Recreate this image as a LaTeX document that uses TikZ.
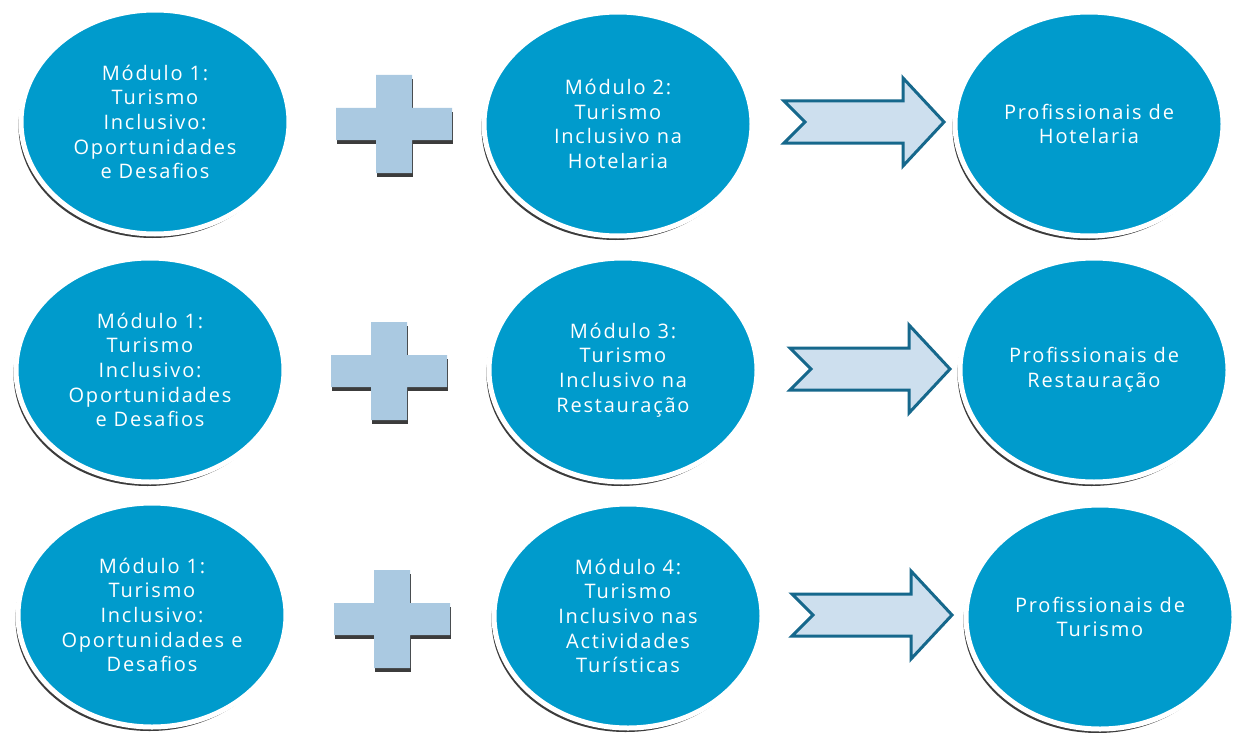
\documentclass[tikz,border=0pt]{standalone}
\usepackage{fontspec}
\setsansfont{Open Sans}[LetterSpace=9]
\usetikzlibrary{shapes.geometric,shadows}
\definecolor{ballblue}{RGB}{0,155,204}
\definecolor{crossfill}{RGB}{170,201,225}
\definecolor{arrowfill}{RGB}{205,223,238}
\definecolor{arrowline}{RGB}{22,104,140}
\definecolor{shadowgray}{RGB}{60,60,60}
\tikzset{
  ball/.style={ellipse, fill=ballblue, draw=white, line width=5pt,
    minimum width=268pt, minimum height=224pt, inner sep=0pt,
    text=white, align=center,
    font=\sffamily\fontsize{20}{24.6}\selectfont,
    drop shadow={shadow xshift=-2.5pt, shadow yshift=-4pt, fill=shadowgray, opacity=1}},
  pics/plussign/.style={code={
    \fill[shadowgray] (-57,-12) rectangle (59,20);
    \fill[shadowgray] (-17,-45) rectangle (19,53);
    \fill[crossfill] (-58,-16) -- (-18,-16) -- (-18,-49) -- (18,-49) -- (18,-16)
       -- (58,-16) -- (58,16) -- (18,16) -- (18,49) -- (-18,49) -- (-18,16) -- (-58,16) -- cycle;
  }},
  pics/fatarrow/.style={code={
    \draw[fill=arrowfill, draw=arrowline, line width=3pt, line join=miter]
      (-80,-21) -- (39,-21) -- (39,-44) -- (80,0) -- (39,44) -- (39,21)
      -- (-80,21) -- (-59,0) -- cycle;
  }}
}
\begin{document}
\begin{tikzpicture}[x=1pt,y=-1pt]
\useasboundingbox[fill=white] (0,0) rectangle (1236,733);
% row 1
\node[ball] (r1a) at (155,122) {Módulo 1:\\Turismo\\Inclusivo:\\Oportunidades\\e Desafios};
\node[ball] (r1b) at (618,124) {Módulo 2:\\Turismo\\Inclusivo na\\Hotelaria};
\node[ball] (r1c) at (1089,124) {Profissionais de\\Hotelaria};
\pic at (394,124) {plussign};
\pic at (864,122) {fatarrow};
% row 2
\node[ball] (r2a) at (150,370) {Módulo 1:\\Turismo\\Inclusivo:\\Oportunidades\\e Desafios};
\node[ball] (r2b) at (623,370) {Módulo 3:\\Turismo\\Inclusivo na\\Restauração};
\node[ball] (r2c) at (1094,370) {Profissionais de\\Restauração};
\pic at (389,371) {plussign};
\pic at (870,369) {fatarrow};
% row 3
\node[ball] (r3a) at (152,615) {Módulo 1:\\Turismo\\Inclusivo:\\Oportunidades e\\Desafios};
\node[ball] (r3b) at (628,616) {Módulo 4:\\Turismo\\Inclusivo nas\\Actividades\\Turísticas};
\node[ball] (r3c) at (1100,617) {Profissionais de\\Turismo};
\pic at (392,619) {plussign};
\pic at (872,615) {fatarrow};
\end{tikzpicture}
\end{document}
